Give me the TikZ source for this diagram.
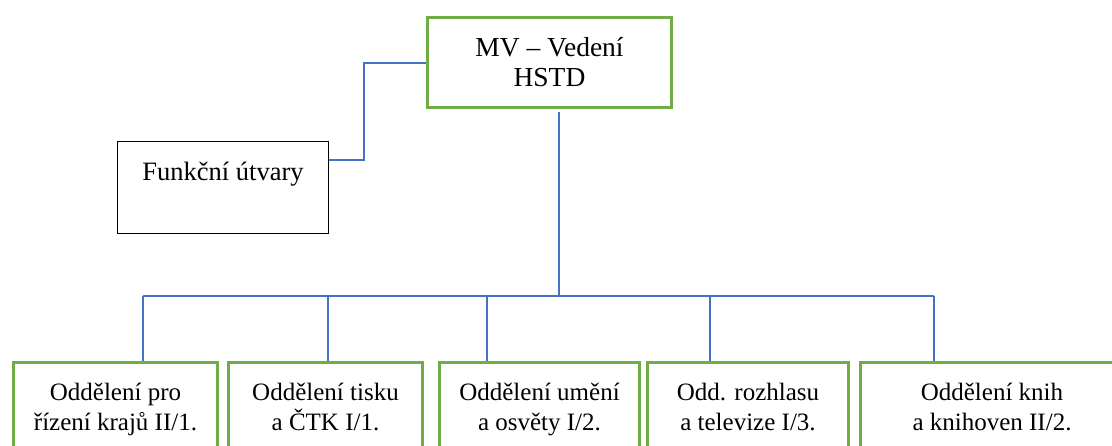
\documentclass[tikz,border=0pt]{standalone}
\usepackage{fontspec}
\setmainfont{Liberation Serif}
\usepackage{tikz}
\usetikzlibrary{arrows,shapes}
\definecolor{boxgreen}{RGB}{112,173,71}
\definecolor{lineblue}{RGB}{68,114,196}
\tikzstyle{green box}=[rectangle, draw=boxgreen
,line width=3pt
,inner sep=0pt
,align=center
]
\tikzstyle{head box} = [green box, minimum width=244pt, minimum height=90pt, font=\fontsize{27.5}{30}\selectfont]
\tikzstyle{dept box} = [green box, anchor=north, minimum height=90pt, text height=57pt, text depth=10pt, font=\fontsize{25}{30}\selectfont]
\tikzstyle{plain box} = [rectangle, draw=black, line width=1.5pt, inner sep=0pt, align=center, font=\fontsize{26.5}{33}\selectfont]
\tikzstyle{edge} = [draw,lineblue,line width=1.4pt,-]

\begin{document}
\begin{tikzpicture}[x=1pt,y=-1pt]
    \clip (0,0) rectangle (1112,445);
    \useasboundingbox (0,0) rectangle (1112,445);
    % Vedeni and the side box
    \node[head box] (H) at (549.5,62.5) {MV -- Vedení\\HSTD};
    \node[plain box, minimum width=211pt, minimum height=92pt] (F) at (223,187.5) {Funkční útvary\\\mbox{}};

    % the five departments
    \node[dept box, minimum width=204pt] (O_1) at (115.5,360.5) {Oddělení pro\\řízení krajů II/1.};
    \node[dept box, minimum width=194pt] (O_2) at (325.5,360.5) {Oddělení tisku\\a ČTK I/1.};
    \node[dept box, minimum width=200pt] (O_3) at (539.5,360.5) {Oddělení umění\\a osvěty I/2.};
    \node[dept box, minimum width=201pt] (O_4) at (748,360.5) {Odd. rozhlasu\\a televize I/3.};
    \node[dept box, minimum width=264pt] (O_5) at (992,360.5) {Oddělení knih\\a knihoven II/2.};

    % bus points
    \coordinate (J) at (559,296);
    \foreach \x/\name in {143/B_1, 328/B_2, 487/B_3, 710/B_4, 934/B_5}
        \coordinate (\name) at (\x,296);
    \coordinate (E_1) at (364,160);
    \coordinate (E_2) at (364,63);

    % Connect boxes with lines
    \path[edge] (E_1 -| F.east) -- (E_1) -- (E_2) -- (E_2 -| H.west);
    \path[edge] (J |- H.south) ++(0,3) -- (J);
    \path[edge] (B_1) -- (B_5);
    \foreach \source/\dest in {B_1/O_1, B_2/O_2, B_3/O_3, B_4/O_4, B_5/O_5}
        \path[edge] (\source) -- (\source |- \dest.north);
\end{tikzpicture}
\end{document}
